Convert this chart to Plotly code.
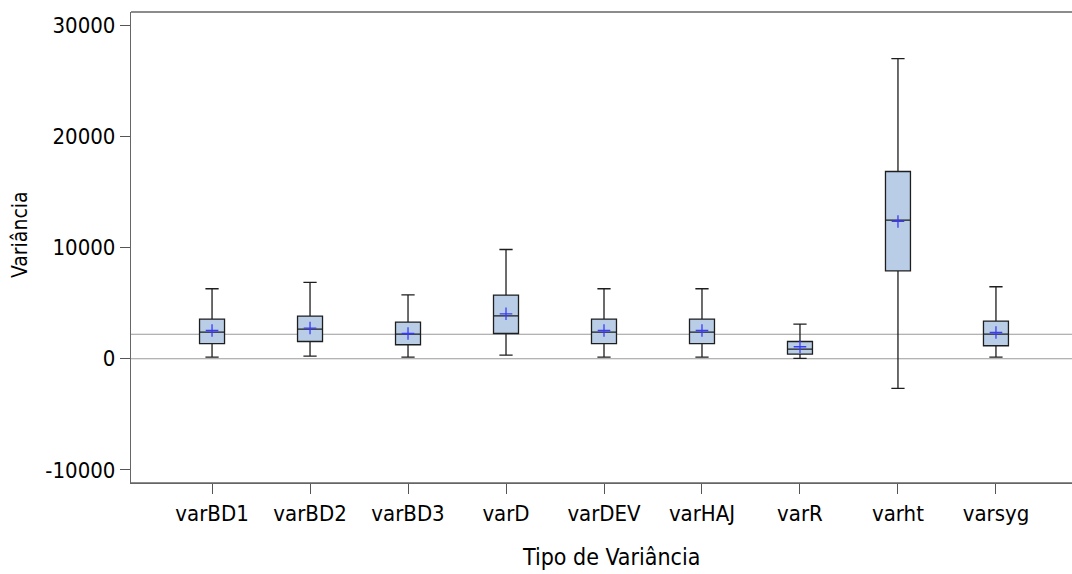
import plotly.graph_objects as go

categories = ["varBD1", "varBD2", "varBD3", "varD", "varDEV", "varHAJ", "varR", "varht", "varsyg"]
lower_whisker = [150, 240, 150, 330, 150, 150, 30, -2670, 150]
q1_values = [1350, 1550, 1260, 2270, 1350, 1350, 420, 7900, 1170]
median_values = [2400, 2670, 2220, 3860, 2400, 2400, 870, 12460, 2220]
q3_values = [3570, 3840, 3300, 5720, 3570, 3570, 1550, 16830, 3390]
upper_whisker = [6290, 6860, 5750, 9820, 6290, 6290, 3120, 26980, 6470]
mean_values = [2540, 2760, 2270, 4040, 2540, 2540, 1080, 12340, 2360]
reference_lines = [0, 2200]
y_ticks = [-10000, 0, 10000, 20000, 30000]

FONT = "DejaVu Sans Condensed, DejaVu Sans, sans-serif"

fig = go.Figure()
fig.add_trace(go.Box(
    x=categories,
    q1=q1_values,
    median=median_values,
    q3=q3_values,
    lowerfence=lower_whisker,
    upperfence=upper_whisker,
    boxpoints=False,
    width=0.255,
    whiskerwidth=0.53,
    fillcolor="#b9cee6",
    line=dict(color="#1e1e1e", width=1.3),
    showlegend=False,
    hoverinfo="skip",
))
fig.add_trace(go.Scatter(
    x=categories,
    y=mean_values,
    mode="markers",
    marker=dict(symbol="cross-thin", size=9, line=dict(color="#3a3aff", width=1.3)),
    showlegend=False,
    hoverinfo="skip",
))

for yv in reference_lines:
    fig.add_shape(type="line", xref="paper", x0=0, x1=1, yref="y", y0=yv, y1=yv,
                  line=dict(color="#9a9a9a", width=1.2), layer="below")
# top and bottom frame lines
for yp in (0, 1):
    fig.add_shape(type="line", xref="paper", x0=0, x1=1, yref="paper", y0=yp, y1=yp,
                  line=dict(color="#666666", width=1.3))

fig.add_annotation(text="Tipo de Variância", xref="paper", yref="paper",
                   x=0.510, y=0, xanchor="center", yanchor="middle", yshift=-74,
                   showarrow=False, font=dict(size=23, family=FONT, color="#000000"))
fig.add_annotation(text="Variância", xref="paper", yref="paper",
                   x=0, y=0.5265, xanchor="center", yanchor="middle", xshift=-111,
                   textangle=-90, showarrow=False,
                   font=dict(size=21, family=FONT, color="#000000"))

fig.update_layout(
    width=1072, height=574,
    margin=dict(l=131, r=0, t=12, b=91),
    paper_bgcolor="white", plot_bgcolor="white",
    font=dict(family=FONT, color="#000000"),
    xaxis=dict(
        type="category",
        range=[-0.827, 8.776],
        automargin=False,
        showline=True, linecolor="#666666", linewidth=1.3,
        ticks="outside", ticklen=10, tickcolor="#555555", tickwidth=1.3,
        tickfont=dict(size=22, family=FONT),
        showgrid=False, zeroline=False,
    ),
    yaxis=dict(
        range=[-11170, 31170],
        automargin=False,
        tickvals=y_ticks,
        ticktext=[str(v) for v in y_ticks],
        showline=True, linecolor="#666666", linewidth=1.3,
        ticks="outside", ticklen=10, tickcolor="#555555", tickwidth=1.3,
        tickfont=dict(size=22, family=FONT),
        showgrid=False, zeroline=False,
    ),
)

fig.write_html("out.html", config={"displayModeBar": False},
               post_script="document.body.style.margin='0';document.body.style.overflow='hidden';")
